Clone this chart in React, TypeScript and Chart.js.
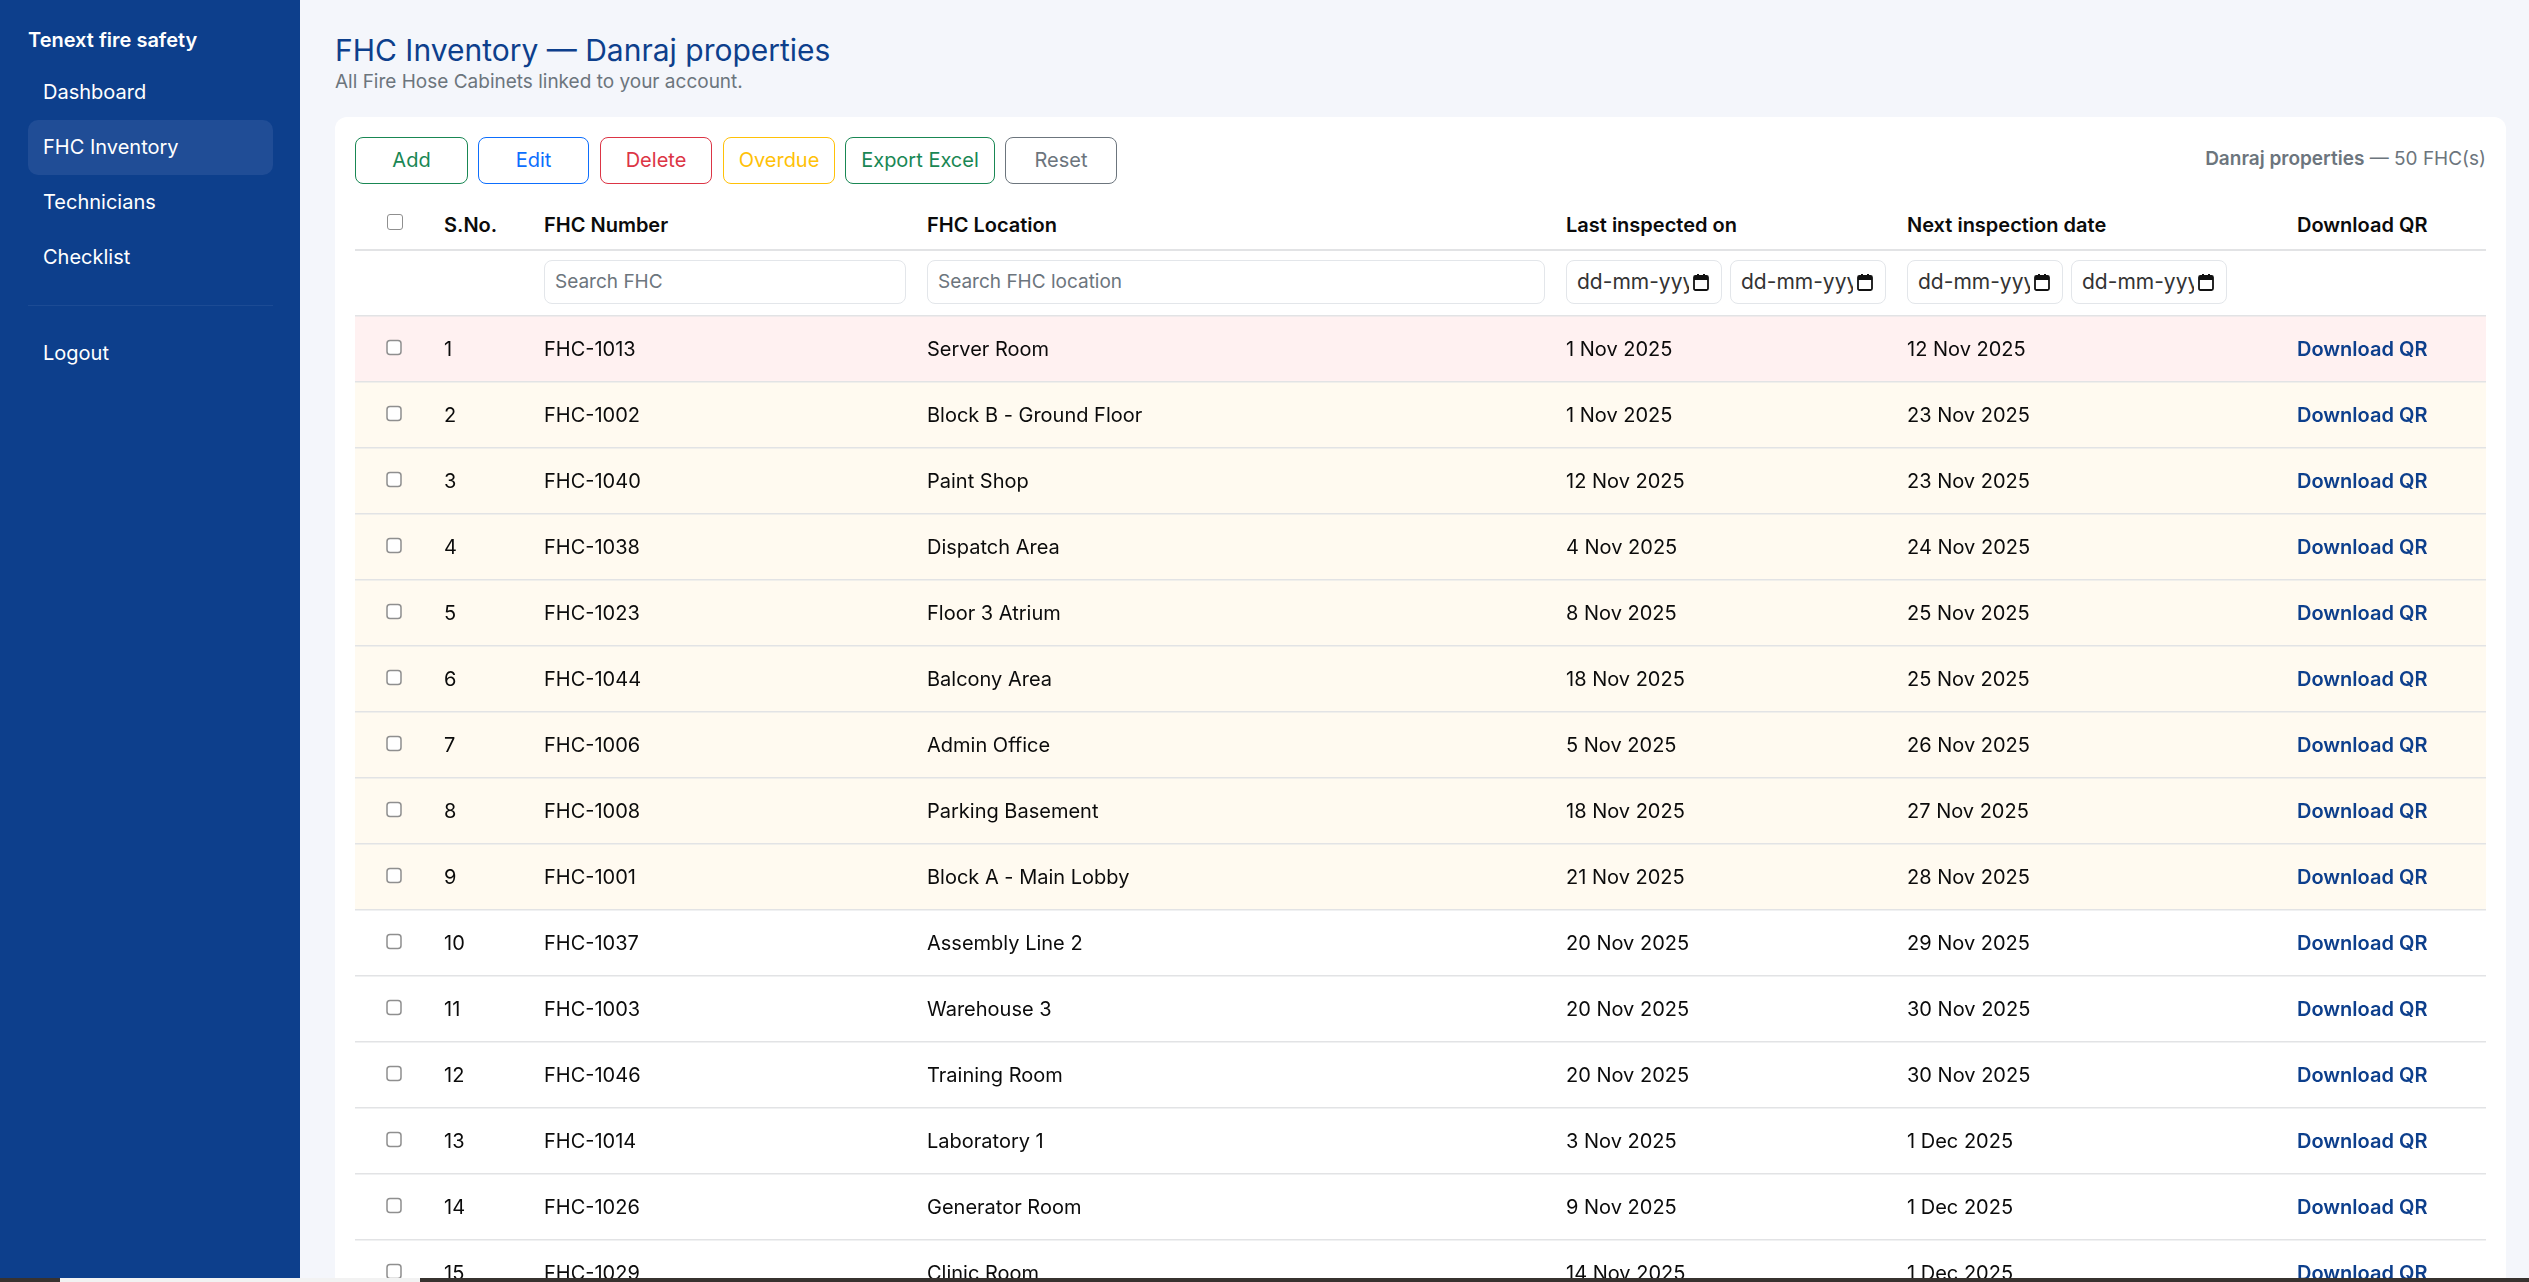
import { useEffect, useRef } from 'react'
import { Chart, registerables } from 'chart.js'

Chart.register(...registerables)

const FONT = 'Inter, "Noto Sans", sans-serif'
const NAVY = '#0d3f8c'
const LINE = '#e2e3e5'

const navItems = ['Dashboard', 'FHC Inventory', 'Technicians', 'Checklist']

const toolbarButtons = [
  { label: 'Add', color: '#198754', left: 355, width: 113 },
  { label: 'Edit', color: '#0d6efd', left: 478, width: 111 },
  { label: 'Delete', color: '#dc3545', left: 600, width: 112 },
  { label: 'Overdue', color: '#ffc107', left: 723, width: 112 },
  { label: 'Export Excel', color: '#198754', left: 845, width: 150 },
  { label: 'Reset', color: '#6c757d', left: 1005, width: 112 },
]

const headers = [
  { label: 'S.No.', left: 444 },
  { label: 'FHC Number', left: 544 },
  { label: 'FHC Location', left: 927 },
  { label: 'Last inspected on', left: 1566 },
  { label: 'Next inspection date', left: 1907 },
  { label: 'Download QR', left: 2297 },
]

const dateFilters = [1566, 1730, 1907, 2071]

const serialNumbers = ['1', '2', '3', '4', '5', '6', '7', '8', '9', '10', '11', '12', '13', '14', '15']

const fhcNumbers = [
  'FHC-1013', 'FHC-1002', 'FHC-1040', 'FHC-1038', 'FHC-1023', 'FHC-1044', 'FHC-1006', 'FHC-1008',
  'FHC-1001', 'FHC-1037', 'FHC-1003', 'FHC-1046', 'FHC-1014', 'FHC-1026', 'FHC-1029',
]

const locations = [
  'Server Room', 'Block B - Ground Floor', 'Paint Shop', 'Dispatch Area', 'Floor 3 Atrium',
  'Balcony Area', 'Admin Office', 'Parking Basement', 'Block A - Main Lobby', 'Assembly Line 2',
  'Warehouse 3', 'Training Room', 'Laboratory 1', 'Generator Room', 'Clinic Room',
]

const lastInspected = [
  '1 Nov 2025', '1 Nov 2025', '12 Nov 2025', '4 Nov 2025', '8 Nov 2025', '18 Nov 2025', '5 Nov 2025',
  '18 Nov 2025', '21 Nov 2025', '20 Nov 2025', '20 Nov 2025', '20 Nov 2025', '3 Nov 2025', '9 Nov 2025',
  '14 Nov 2025',
]

const nextInspection = [
  '12 Nov 2025', '23 Nov 2025', '23 Nov 2025', '24 Nov 2025', '25 Nov 2025', '25 Nov 2025', '26 Nov 2025',
  '27 Nov 2025', '28 Nov 2025', '29 Nov 2025', '30 Nov 2025', '30 Nov 2025', '1 Dec 2025', '1 Dec 2025',
  '1 Dec 2025',
]

// overdue, due soon or fine
const rowStatus = [
  'overdue', 'soon', 'soon', 'soon', 'soon', 'soon', 'soon', 'soon', 'soon',
  'ok', 'ok', 'ok', 'ok', 'ok', 'ok',
]

const statusColors: Record<string, string> = {
  overdue: '#fff1f1',
  soon: '#fffaf0',
  ok: '#ffffff',
}

// x scale runs in table pixels, 0 is the left edge of the table
const TABLE_LEFT = 355
const TABLE_WIDTH = 2131
const columnX = { check: 39, serial: 89, number: 189, location: 572, last: 1211, next: 1552, qr: 1942 }

const cellPlugin = {
  id: 'tableCells',
  afterDatasetsDraw(chart: any) {
    const { ctx, scales } = chart
    const x = (v: number) => scales.x.getPixelForValue(v)
    ctx.save()
    ctx.textBaseline = 'middle'
    ctx.textAlign = 'left'
    serialNumbers.forEach((sn, i) => {
      const y = scales.y.getPixelForValue(i)
      ctx.beginPath()
      ctx.roundRect(x(columnX.check) - 7, y - 8.5, 14, 14, 3)
      ctx.fillStyle = '#ffffff'
      ctx.fill()
      ctx.lineWidth = 1.5
      ctx.strokeStyle = '#8f8f8f'
      ctx.stroke()

      ctx.font = `400 20px ${FONT}`
      ctx.fillStyle = '#0b0b0b'
      ctx.fillText(sn, x(columnX.serial), y + 1)
      ctx.fillText(fhcNumbers[i], x(columnX.number), y + 1)
      ctx.fillText(locations[i], x(columnX.location), y + 1)
      ctx.fillText(lastInspected[i], x(columnX.last), y + 1)
      ctx.fillText(nextInspection[i], x(columnX.next), y + 1)
      ctx.font = `600 20px ${FONT}`
      ctx.fillStyle = NAVY
      ctx.fillText('Download QR', x(columnX.qr), y + 1)
    })
    ctx.restore()
  },
}

function InventoryRows() {
  const canvasRef = useRef<HTMLCanvasElement>(null)

  useEffect(() => {
    const canvas = canvasRef.current
    if (!canvas) return

    const chart = new Chart(canvas, {
      type: 'bar',
      data: {
        labels: serialNumbers,
        datasets: [
          {
            data: serialNumbers.map(() => [0, TABLE_WIDTH]) as any,
            backgroundColor: rowStatus.map((s) => statusColors[s]),
            barPercentage: 1,
            categoryPercentage: 1,
          },
        ],
      },
      options: {
        indexAxis: 'y',
        responsive: true,
        maintainAspectRatio: false,
        animation: false,
        events: [],
        layout: { padding: { top: 2, bottom: 0, left: 0, right: 0 } },
        plugins: { legend: { display: false }, tooltip: { enabled: false } },
        scales: {
          x: { type: 'linear', display: false, min: 0, max: TABLE_WIDTH },
          y: {
            type: 'category',
            ticks: { display: false },
            border: { display: false },
            grid: { color: LINE, lineWidth: 1.5, drawTicks: false, offset: true, z: 1 },
          },
        },
      },
      plugins: [cellPlugin],
    })

    return () => chart.destroy()
  }, [])

  return (
    <div style={{ position: 'absolute', left: TABLE_LEFT, top: 314, width: TABLE_WIDTH, height: 992 }}>
      <canvas ref={canvasRef} />
    </div>
  )
}

function at(left: number, top: number, extra: any = {}) {
  return { position: 'absolute', left, top, whiteSpace: 'nowrap', ...extra } as any
}

function FilterBox({ left, width, text, color }: { left: number; width: number; text: string; color: string }) {
  return (
    <div
      style={at(left, 260, {
        width,
        height: 44,
        boxSizing: 'border-box',
        border: '1.5px solid #e3e6ea',
        borderRadius: 8,
        background: '#fff',
        fontSize: 19,
        lineHeight: '42px',
        paddingLeft: 10,
        color,
      })}
    >
      {text}
    </div>
  )
}

function DateFilter({ left }: { left: number }) {
  return (
    <div
      style={at(left, 260, {
        width: 156,
        height: 44,
        boxSizing: 'border-box',
        border: '1.5px solid #e3e6ea',
        borderRadius: 8,
        background: '#fff',
      })}
    >
      <div style={at(10, 0, { width: 112, overflow: 'hidden', fontSize: 21, lineHeight: '42px', color: '#333' })}>
        dd-mm-yyyy
      </div>
      <svg style={at(125.5, 13)} width="16" height="17" viewBox="0 0 16 17">
        <rect x="1" y="2" width="14" height="14" rx="1.5" fill="none" stroke="#111" strokeWidth="1.8" />
        <rect x="1" y="2" width="14" height="4" fill="#111" />
        <rect x="4" y="0" width="2" height="3" fill="#111" />
        <rect x="10" y="0" width="2" height="3" fill="#111" />
      </svg>
    </div>
  )
}

export default function App() {
  return (
    <div
      style={{
        position: 'fixed',
        inset: 0,
        width: 2529,
        height: 1282,
        overflow: 'hidden',
        background: '#f4f6fb',
        fontFamily: FONT,
      }}
    >
      <div style={at(0, 0, { width: 300, height: 1282, background: NAVY })} />
      <div style={at(28, 27, { color: '#fff', fontSize: 20, fontWeight: 600, lineHeight: '26px' })}>
        Tenext fire safety
      </div>
      <div style={at(28, 120, { width: 245, height: 55, borderRadius: 10, background: '#204d96' })} />
      {navItems.map((item, i) => (
        <div key={item} style={at(43, 79 + i * 55, { color: '#fff', fontSize: 20, lineHeight: '26px' })}>
          {item}
        </div>
      ))}
      <div style={at(28, 305, { width: 245, height: 1, background: '#1c4b94' })} />
      <div style={at(43, 340, { color: '#fff', fontSize: 20, lineHeight: '26px' })}>Logout</div>

      <div style={at(335, 32, { color: NAVY, fontSize: 30, lineHeight: '36px' })}>
        FHC Inventory — Danraj properties
      </div>
      <div style={at(335, 70, { color: '#6c757d', fontSize: 19, lineHeight: '24px' })}>
        All Fire Hose Cabinets linked to your account.
      </div>

      <div style={at(335, 117, { width: 2171, height: 1200, background: '#fff', borderRadius: 12 })} />

      {toolbarButtons.map((b) => (
        <div
          key={b.label}
          style={at(b.left, 137, {
            width: b.width,
            height: 47,
            boxSizing: 'border-box',
            border: `1.5px solid ${b.color}`,
            borderRadius: 8,
            color: b.color,
            fontSize: 20,
            lineHeight: '44px',
            textAlign: 'center',
          })}
        >
          {b.label}
        </div>
      ))}

      <div style={at(2205, 147, { width: 281, textAlign: 'right', color: '#6c757d', fontSize: 19, lineHeight: '24px' })}>
        <span style={{ fontWeight: 600 }}>Danraj properties</span> — 50 FHC(s)
      </div>

      <div
        style={at(387, 214, {
          width: 14,
          height: 14,
          boxSizing: 'content-box',
          border: '1.5px solid #8f8f8f',
          borderRadius: 3,
          background: '#fff',
        })}
      />
      {headers.map((h) => (
        <div key={h.label} style={at(h.left, 212, { fontSize: 20, fontWeight: 600, lineHeight: '26px', color: '#0b0b0b' })}>
          {h.label}
        </div>
      ))}
      <div style={at(TABLE_LEFT, 249, { width: TABLE_WIDTH, height: 1.5, background: LINE })} />

      <FilterBox left={544} width={362} text="Search FHC" color="#6c757d" />
      <FilterBox left={927} width={618} text="Search FHC location" color="#6c757d" />
      {dateFilters.map((left) => (
        <DateFilter key={left} left={left} />
      ))}

      <InventoryRows />

      <div style={at(0, 1278, { width: 2529, height: 4, background: '#37322f' })} />
      <div style={at(60, 1278, { width: 360, height: 4, background: '#f2f2f2' })} />
    </div>
  )
}
